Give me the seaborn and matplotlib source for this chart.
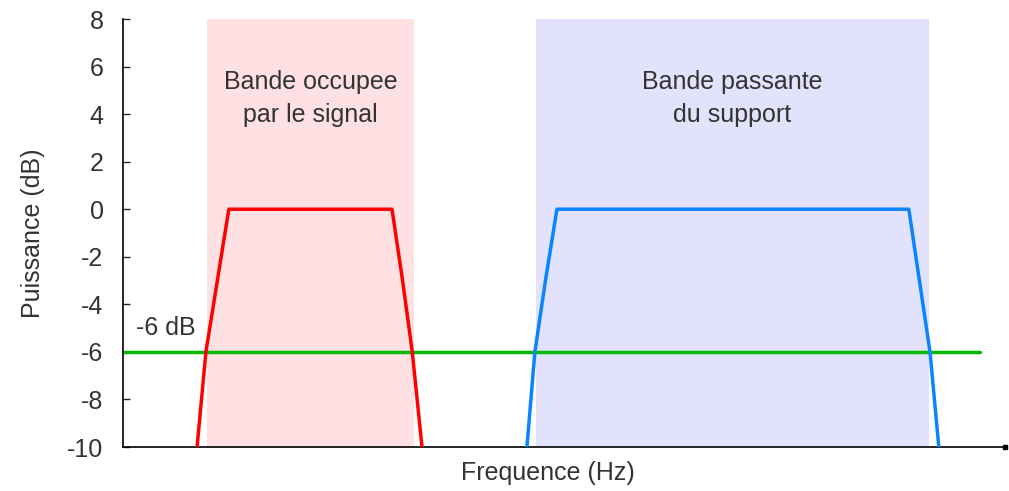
import matplotlib
matplotlib.use("Agg")
import matplotlib.pyplot as plt
import seaborn as sns
import pandas as pd

# frequency axis in arbitrary units (0-100), power in dB
red_freq = [8.4, 9.4, 10.7, 12.0, 30.5, 31.7, 32.8, 33.9]
red_power = [-10, -6, -3, 0, 0, -3, -6, -10]
blue_freq = [45.8, 46.7, 47.9, 49.2, 89.1, 90.3, 91.5, 92.5]
blue_power = [-10, -6, -3, 0, 0, -3, -6, -10]

red_band = (9.5, 33.0)
blue_band = (46.8, 91.4)
threshold_db = -6
threshold_end = 97.2

yticks = [8, 6, 4, 2, 0, -2, -4, -6, -8, -10]

sns.set_style("white")
plt.rcParams['font.family'] = ['Liberation Sans', 'DejaVu Sans']

fig = plt.figure(figsize=(10.09, 4.91), dpi=100)
ax = fig.add_axes([0.1219, 0.0896, 0.8741, 0.8717])

ax.axvspan(*red_band, color='#ffe1e4', lw=0, zorder=0)
ax.axvspan(*blue_band, color='#e2e2fc', lw=0, zorder=0)

df_red = pd.DataFrame({'freq': red_freq, 'power': red_power})
df_blue = pd.DataFrame({'freq': blue_freq, 'power': blue_power})
sns.lineplot(data=df_red, x='freq', y='power', color='#ff0000', lw=2.5,
             sort=False, estimator=None, ax=ax, zorder=3)
sns.lineplot(data=df_blue, x='freq', y='power', color='#0a84ff', lw=2.5,
             sort=False, estimator=None, ax=ax, zorder=3)
ax.plot([0, threshold_end], [threshold_db, threshold_db], color='#00bb00', lw=2.5, zorder=2)

ax.set_xlim(0, 100)
ax.set_ylim(-10, 8)
ax.set_yticks(yticks)
ax.set_yticklabels([str(t) for t in yticks])
ax.set_xticks([])

for s in ['top', 'right']:
    ax.spines[s].set_visible(False)
for s in ['left', 'bottom']:
    ax.spines[s].set_color('black')
    ax.spines[s].set_linewidth(1.2)
ax.plot(1, 0, marker='s', markersize=3.5, color='black', transform=ax.transAxes, clip_on=False)

fs = 18
ax.tick_params(axis='y', direction='in', length=5, width=1, left=True,
               labelsize=fs, labelcolor='#333333', pad=14)

ax.set_xlabel('Frequence (Hz)', fontsize=fs, color='#333333', labelpad=8)
ax.xaxis.set_label_coords(0.482, -0.033, transform=ax.transAxes)
ax.xaxis.label.set_va('top')
ax.set_ylabel('Puissance (dB)', fontsize=fs, color='#333333', labelpad=16)

ax.text(sum(red_band) / 2, 4.65, 'Bande occupee\npar le signal', ha='center', va='center',
        fontsize=fs, color='#333333', linespacing=1.45)
ax.text(sum(blue_band) / 2, 4.65, 'Bande passante\ndu support', ha='center', va='center',
        fontsize=fs, color='#333333', linespacing=1.45)
ax.text(1.5, -5.0, '-6 dB', ha='left', va='center', fontsize=fs, color='#333333')

fig.savefig('out.png', dpi=100)
